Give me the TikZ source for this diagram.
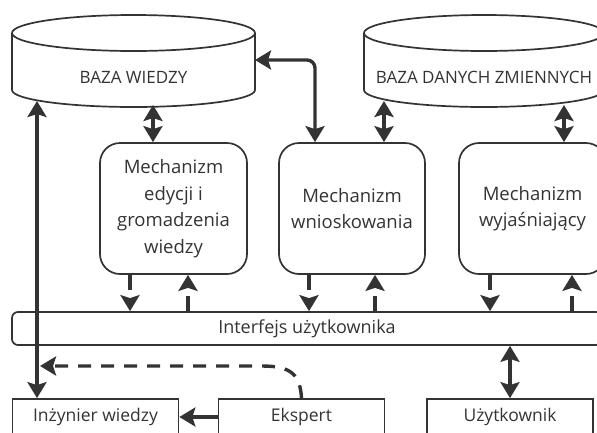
\documentclass[tikz,border=0pt]{standalone}
\usepackage{fontspec}
\setmainfont{Open Sans}
\usetikzlibrary{arrows.meta,positioning,calc}
\definecolor{szary}{HTML}{333333}

\begin{document}
\begin{tikzpicture}[x=1pt, y=-1pt, >={Stealth[length=16pt,width=19pt,inset=3pt]},
            every node/.style={text=szary, inner sep=0pt},
            cyl/.style={draw=szary, line width=1.7pt, fill=white},
            baza/.style={font=\fontsize{17}{20}\selectfont},
            mech/.style={draw=szary, line width=1.7pt, rounded corners=20pt, minimum width=147pt,
                         minimum height=131pt, align=center, font=\fontsize{18.5}{26.5}\selectfont},
            pasek/.style={draw=szary, line width=1.7pt, rounded corners=6pt, minimum width=590pt,
                          minimum height=33pt, font=\fontsize{18}{20}\selectfont},
            aktor/.style={draw=szary, line width=1.7pt, minimum width=166pt, minimum height=36pt,
                          font=\fontsize{17.5}{20}\selectfont},
            strz/.style={draw=szary, line width=3.4pt, <->},
            przer/.style={draw=szary, line width=3.4pt, dash pattern=on 15pt off 9pt, ->}]
    \useasboundingbox (0,0) rectangle (597,432);
    \clip (0,0) rectangle (597,432);

    % bazy
    \draw[cyl] (12,33) -- (12,90) arc[start angle=180, end angle=0, x radius=121.5, y radius=17] -- (255,33);
    \draw[cyl] (133.5,33) ellipse [x radius=121.5, y radius=18];
    \node[baza] (wiedza) at (133.5,77) {BAZA WIEDZY};
    \draw[cyl] (364,33) -- (364,90) arc[start angle=180, end angle=0, x radius=120, y radius=17] -- (604,33);
    \draw[cyl] (484,33) ellipse [x radius=120, y radius=18];
    \node[baza] (zmienne) at (484,77) {BAZA DANYCH ZMIENNYCH};

    \coordinate (wiedza-l) at (37,101);
    \coordinate (wiedza-d) at (153,105);
    \coordinate (wiedza-p) at (255,60);
    \coordinate (zmienne-l) at (384,101);
    \coordinate (zmienne-p) at (564,105);
    \coordinate (inz-lin) at (37,366);

    % mechanizmy
    \node[mech] (edycja) at (173.5,208.5) {Mechanizm\\edycji i\\gromadzenia\\wiedzy};
    \node[mech, minimum width=146pt] (wnioski) at (352,208.5) {Mechanizm\\wnioskowania};
    \node[mech] (wyjasn) at (532.5,208.5) {Mechanizm\\wyjaśniający};

    \node[pasek] (interfejs) at (307,328.5) {Interfejs użytkownika};

    \node[aktor] (inzynier) at (95.5,417) {Inżynier wiedzy};
    \node[aktor] (ekspert) at (301.5,417) {Ekspert};
    \node[aktor] (uzytk) at (510,417) {Użytkownik};

    % polaczenia
    \draw[strz] (inzynier.north -| wiedza-l) -- (wiedza-l);
    \draw[strz] (edycja.north -| wiedza-d) -- (wiedza-d);
    \draw[strz, rounded corners=8pt] (wiedza-p) -| ([xshift=-37pt]wnioski.north);
    \draw[strz] (wnioski.north -| zmienne-l) -- (zmienne-l);
    \draw[strz] (wyjasn.north -| zmienne-p) -- (zmienne-p);

    \foreach \m/\d/\g in {edycja/-43.5/14.5, wnioski/-43/23, wyjasn/-42.5/39.5} {
        \coordinate (dol) at ($(\m.south)+(\d,0)$);
        \coordinate (gora) at ($(\m.south)+(\g,0)$);
        \draw[przer] (dol) -- (dol |- interfejs.north);
        \draw[przer] (gora |- interfejs.north) -- (gora);
    }

    \draw[strz] (interfejs.south -| uzytk.north) -- (uzytk.north);
    \draw[strz, ->] (ekspert.west) -- (inzynier.east);
    \draw[przer, dash pattern=on 13pt off 10pt] (ekspert.north) .. controls (300,375) and (292,366) .. (262,366)
        -- ([xshift=3pt]inz-lin);
\end{tikzpicture}
\end{document}
